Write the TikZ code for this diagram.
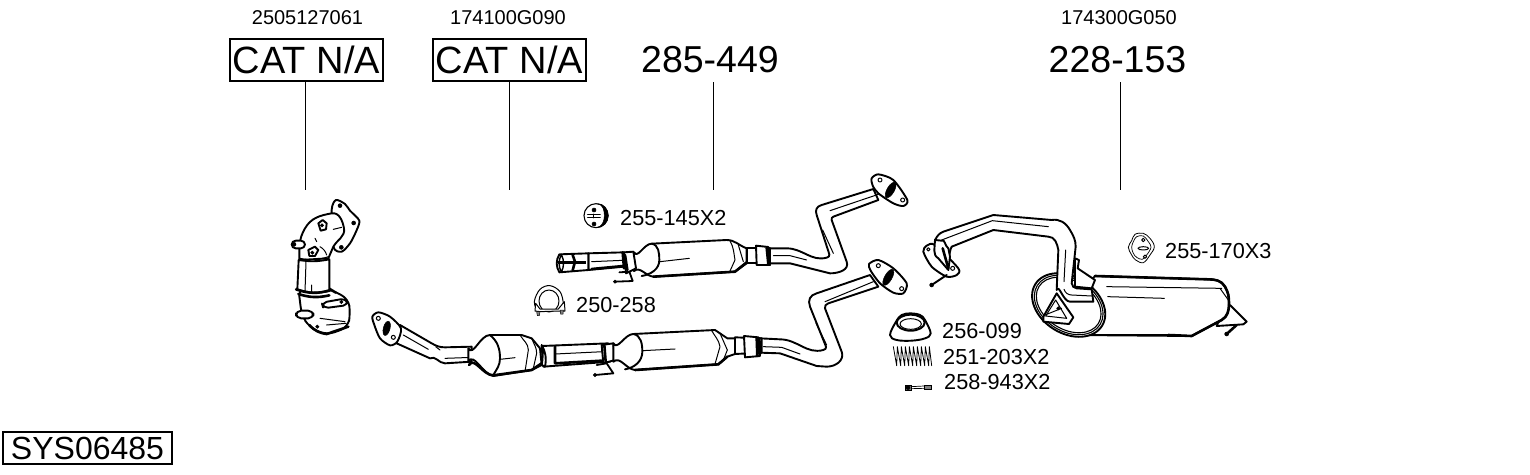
\documentclass[tikz,border=0pt]{standalone}
\usepackage{fontspec}
\setmainfont{Liberation Sans}
\newcommand{\fsz}[1]{\fontsize{#1}{#1}\selectfont}
\newcommand{\blobc}[2][part]{\path[#1] plot[smooth cycle,tension=.45] coordinates {#2};}
\tikzset{
 part/.style={draw=black,fill=white,line width=1.9pt,line join=round,line cap=round},
 thinp/.style={draw=black,line width=1pt,line cap=round,line join=round},
 thk/.style={draw=black,line width=2.6pt,line cap=round,line join=round},
 solid/.style={draw=black,fill=black,line width=.5pt},
 small/.style={inner sep=0pt,font=\fsz{20}},
 ref/.style={inner sep=0pt,anchor=west,font=\fsz{21.7}},
 big/.style={inner sep=0pt,font=\fsz{37.5}},
 catbox/.style={draw=black,line width=1.1pt,inner sep=0pt,minimum height=42pt,font=\fsz{38}},
 leader/.style={draw=black,line width=1.1pt},
 zoomed/.style={scale=1/3}
}
\begin{document}
\begin{tikzpicture}[x=1pt,y=-1pt]
\useasboundingbox (0,0) rectangle (1530,474);
% ---- labels
\node[small] (n1) at (307.5,18) {2505127061};
\node[small] (n2) at (508,18) {174100G090};
\node[small] (n3) at (1119,18) {174300G050};
\node[catbox,minimum width=153pt] (c1) at (306.5,60) {CAT N/A};
\node[catbox,minimum width=153pt] (c2) at (509.5,60) {CAT N/A};
\node[big] (c3) at (710,60) {285-449};
\node[big] (c4) at (1117.5,60) {228-153};
\coordinate (e1) at (305.5,190);
\coordinate (e2) at (509.5,190);
\coordinate (e3) at (713.4,190);
\coordinate (e4) at (1120.5,190);
\draw[leader] (e1 |- c1.south) -- (e1);
\draw[leader] (e2 |- c2.south) -- (e2);
\draw[leader] (e3 |- 0,82) -- (e3);
\draw[leader] (e4 |- 0,82) -- (e4);
\node[draw=black,line width=1.1pt,inner sep=0pt,minimum width=169pt,minimum height=32pt,font=\fsz{32}] (sys) at (87.5,448) {SYS06485};
\node[ref] (r1) at (620,218) {255-145X2};
\node[ref] (r2) at (576,305) {250-258};
\node[ref] (r3) at (942,331) {256-099};
\node[ref] (r4) at (943,357) {251-203X2};
\node[ref] (r5) at (944,382) {258-943X2};
\node[ref] (r6) at (1165,251) {255-170X3};
% ---- manifold with catalyst
\begin{scope}[xshift=270pt,yshift=-190pt,zoomed]
\blobc{(185,60)(198,30)(225,42)(240,62)(268,92)(258,125)(240,160)(215,185)(190,170)}
\path[part] (88,190) to[out=90,in=-120] (105,115) to[out=60,in=190] (185,70) to[out=10,in=100] (222,115) to[out=-80,in=60] (190,170) -- (175,205) -- (88,210) -- cycle;
\path[part,rounded corners=8pt] (85,295) -- (178,295) -- (192,305) -- (235,325) -- (241,370) -- (234,412) -- (170,435) -- (118,412) -- (95,375) -- cycle;
\path[part] (86,210) -- (82,298) to[bend right=15] (178,303) -- (178,208) to[bend left=10] (86,210);
\path[thinp] (108,215) -- (105,305) (125,285) -- (125,310) (90,205) to[bend right=15] (175,200);
\path[thk] (78,298) to[bend right=18] (182,300);
\path[thk] (85,312) to[bend right=15] (178,316);
\path[part,rounded corners=5pt] (155,338) -- (228,325) -- (235,345) -- (160,355) -- cycle;
\path[thinp] (150,385) -- (225,395) (170,405)--(228,400);
\path[thk] (118,405) to[bend right=20] (170,432) -- (235,410);
\path[part,rounded corners=5pt] (78,362) rectangle (130,385);
\path[part,rounded corners=4pt] (65,152) rectangle (105,175);
\path[solid] (72,163) circle (6);
\path[part] (145,100) -- (158,90) -- (170,100) -- (168,118) -- (152,122) -- cycle;
\path[solid] (156,106) circle (5);
\path[part] (115,180) -- (135,170) -- (145,180) -- (135,198) -- (118,198) -- cycle;
\path[solid] (127,188) circle (5);
\path[solid] (210,47) circle (6) (251,99) circle (6) (214,172) circle (6) (214,336) circle (5) (142,410) circle (5);
\path[thinp] (190,118) -- (215,112) (135,145) -- (140,155) (150,170) to[bend left=20] (170,195);
\end{scope}
% ---- front pipe with catalyst
\begin{scope}[xshift=365pt,yshift=-250pt,zoomed]
\path[part] (105,225) -- (200,280) to[out=-30,in=180] (240,292) -- (320,290) -- (320,335) -- (240,340) to[out=180,in=30] (195,325) -- (95,280) -- cycle;
\path[thinp] (115,255) -- (190,298) (225,300) -- (212,290) (240,325) -- (325,322);
\blobc{(22,200)(40,187)(75,200)(108,235)(97,275)(75,286)(45,265)(28,225)}
\path[solid] (65,235) ellipse [x radius=10,y radius=22,rotate=-15];
\path[part,line width=1pt] (40,205) circle (6) (85,262) circle (6);
% cat
\path[part] (310,295) to[out=-60,in=180] (375,255) -- (470,255) -- (500,265) -- (525,295) -- (530,345) -- (500,360) -- (385,378) to[out=170,in=60] (310,335) -- cycle;
\path[thk] (312,345) to[out=60,in=180] (385,376) -- (500,360) -- (530,340);
\path[part,fill=none] (375,255) to[out=-40,in=90] (405,325) to[out=-90,in=60] (385,375);
\path[thinp] (405,328) -- (450,323) (465,255) to[out=-60,in=90] (490,300) -- (480,365) (500,265) to[out=-70,in=90] (515,310) -- (505,355);
% connecting tube
\path[part] (530,288) -- (730,280) -- (735,335) -- (535,350) -- cycle;
\path[thinp] (570,312) -- (715,305);
\path[thk] (570,340) -- (710,332) (570,288) -- (570,340);
\path[part] (530,285) to[bend left=20] (540,350) -- (530,345) to[bend right=10] (530,285);
\path[part] (710,285) -- (745,280) -- (750,330) -- (715,340) -- cycle;
\path[thk] (718,285) -- (722,335);
% hook
\path[thk,line width=1.8pt] (690,375) -- (745,370) -- (725,340) -- (695,345);
\path[solid] (690,375) circle (5);
\end{scope}
\begin{scope}[xshift=640pt,yshift=-250pt,zoomed]
% pipe to flange
\path[part] (360,265) -- (420,268) to[out=0,in=195] (550,300) to[out=10,in=-65] (558,290) -- (510,170) to[out=110,in=195,looseness=1.2] (530,130) -- (690,75) -- (715,110) -- (565,160) to[out=195,in=110] (555,175) -- (605,305) to[out=-70,in=0,looseness=1.1] (560,350) -- (530,348) -- (420,310) -- (360,308) -- cycle;
\path[thinp] (370,290) -- (425,292) -- (480,312) (528,220) -- (560,285) (555,155) -- (700,95);
% muffler
\path[part] (-80,280) to[out=-60,in=180] (-20,252) -- (225,240) -- (262,265) -- (285,265) -- (285,312) -- (262,320) -- (235,343) -- (-15,360) to[out=175,in=40] (-80,335) -- cycle;
\path[part,fill=none] (-20,252) to[out=-10,in=90] (7,305) to[out=-90,in=10] (-45,358);
\path[thinp] (7,302) -- (105,297) (215,242) to[out=-60,in=100] (240,290) -- (225,342) (240,250) -- (262,300) -- (250,330);
\path[thk] (-15,360) -- (235,343) -- (262,320);
\path[part] (285,262) -- (365,265) -- (365,308) -- (285,312) -- cycle;
\path[part] (312,258) -- (355,262) -- (360,318) -- (315,322) -- cycle;
\path[thk] (350,262) -- (352,318) (358,265) -- (360,312);
\blobc{(687,42)(715,30)(760,55)(800,100)(790,130)(760,128)(720,100)(692,62)}
\path[solid] (745,82) ellipse [x radius=11,y radius=27,rotate=-30];
\path[part,line width=1pt] (715,47) circle (6) (785,116) circle (6);
\end{scope}
% ---- middle pipe
\begin{scope}[xshift=550pt,yshift=-165pt,zoomed]
\path[part] (660,250) -- (710,250) to[out=0,in=195] (830,278) to[out=10,in=-65] (838,268) -- (800,150) to[out=110,in=195,looseness=1.2] (815,120) -- (970,72) -- (985,105) -- (850,155) to[out=195,in=110] (845,165) -- (890,290) to[out=-70,in=0,looseness=1.1] (840,325) -- (720,295) -- (660,295) -- cycle;
\path[thinp] (670,272) -- (720,272) -- (770,285) (818,195) -- (850,265) (840,137) -- (985,88);
\path[part] (115,265) -- (222,262) -- (222,305) -- (115,315) -- cycle;
\path[thinp] (125,290) -- (218,286);
\path[thk] (125,312) -- (220,303) (218,262) -- (222,310);
\path[part] (28,268) -- (115,265) -- (115,315) -- (28,322) to[bend left=30] cycle;
\path[part,line width=1.4pt] (34,268) to[bend left=25] (34,322) to[bend left=25] (34,268);
\path[solid] (25,288) rectangle (105,295);
\path[thk] (68,270) -- (75,290) -- (68,316);
\path[part] (252,262) to[out=-60,in=180] (305,236) -- (530,225) to[out=0,in=160] (590,250) -- (590,295) -- (555,320) -- (310,335) to[out=175,in=40] (252,318) -- cycle;
\path[part,fill=none] (305,236) to[out=-10,in=90] (328,285) to[out=-90,in=10] (275,333);
\path[thinp] (330,290) -- (418,280) (540,228) to[out=-60,in=100] (555,285) -- (540,318) (565,240) -- (580,290);
\path[thk] (310,335) -- (555,320) -- (590,292);
\path[part] (222,262) -- (250,260) -- (258,310) -- (228,325) -- cycle;
\path[thk] (225,270) -- (232,315);
\path[part] (590,248) -- (660,248) -- (660,295) -- (590,295) -- cycle;
\path[part] (618,242) -- (655,246) -- (660,300) -- (620,300) -- cycle;
\path[thk] (650,248) -- (655,298);
\path[thk,line width=1.8pt] (195,350) -- (248,348) -- (238,320) -- (208,322);
\path[solid] (195,350) circle (5);
\blobc{(965,40)(985,28)(1030,45)(1072,105)(1060,123)(1030,115)(985,85)(968,62)}
\path[solid] (1022,75) ellipse [x radius=11,y radius=26,rotate=-30];
\path[part,line width=1pt] (990,45) circle (6) (1058,105) circle (6);
\end{scope}
% ---- rear muffler
\begin{scope}[xshift=915pt,yshift=-200pt,zoomed]
\path[part] (920,340) -- (945,315) -- (995,365) -- (985,373) -- (905,378) -- cycle;
\path[thk] (935,402) -- (965,375);
\path[solid] (935,402) circle (6);
\path[part] (540,228) -- (880,238) to[out=0,in=120] (930,260) to[out=-60,in=90] (942,310) to[out=-90,in=30] (920,360) -- (830,408) -- (470,405) -- (450,330) -- cycle;
\path[thk] (540,228) -- (880,238) to[out=0,in=120] (930,260) to[out=-60,in=90] (942,310) to[out=-90,in=30] (920,360) -- (830,408) -- (760,405);
\path[thinp] (575,260) -- (920,265) (915,265) -- (940,300) (578,290) -- (748,295);
\path[thk] (470,405) -- (760,405);
\path[part] (461,315) ellipse [x radius=118,y radius=85,rotate=-32];
\path[part,fill=none,line width=1.1pt] (461,315) ellipse [x radius=111,y radius=79,rotate=-32];
\path[part,fill=none,line width=1.1pt] (461,315) ellipse [x radius=105,y radius=73,rotate=-32];
\path[part] (425,280) -- (475,352) -- (462,372) -- (385,365) -- (385,350) -- cycle;
\path[thinp] (422,300) -- (392,348) -- (455,355) -- cycle;
\path[thinp] (390,345) -- (440,325);
\path[solid] (430,325) circle (5);
% tube
\path[part] (480,175) -- (492,180) -- (488,205) -- (540,240) -- (530,265) -- (480,260) -- cycle;
\path[part] (60,120) to[out=60,in=200] (85,95) -- (235,45) -- (410,60) to[out=10,in=120] (465,90) to[out=-60,in=90] (482,140) -- (470,250) to[out=-80,in=180] (485,265) -- (530,268) -- (535,305) -- (465,305) to[out=180,in=70] (425,270) -- (430,150) to[out=100,in=0] (400,110) -- (235,90) -- (110,140) to[out=240,in=60] (100,170) -- (100,210) -- (65,190) -- cycle;
\path[thinp] (80,120) -- (232,62) -- (400,80) (452,150) -- (447,245) (447,268) to[out=-70,in=180] (470,285) -- (530,288);
\blobc{(25,155)(35,137)(60,135)(130,205)(125,225)(95,230)(50,200)}
\path[part] (60,120) to[out=-90,in=150] (70,175) -- (100,210) -- (105,170) -- (100,145) to[out=150,in=40] (80,122) -- cycle;
\path[thk] (83,145) -- (100,205);
\path[thk,line width=2pt] (50,255) -- (95,225);
\path[solid] (50,255) circle (6);
\path[part,line width=1pt] (40,148) circle (5) (113,205) circle (6);
\end{scope}
% ---- hanger 255-170
\begin{scope}[xshift=915pt,yshift=-200pt,zoomed]
\path[part,line width=.8pt] plot[smooth cycle,tension=.6] coordinates {(660,103)(685,100)(705,115)(718,140)(705,165)(685,188)(662,180)(650,165)(640,142)(650,122)};
\path[part,line width=.7pt] plot[smooth cycle,tension=.6] coordinates {(665,110)(685,108)(700,125)(708,142)(695,165)(682,178)(665,172)(655,160)(650,142)(655,125)};
\path[part,line width=1pt] (685,145) ellipse (16 and 5);
\path[part,line width=1pt] (685,120) circle (5) (690,170) circle (5);
\end{scope}
% ---- clamp 250-258
\begin{scope}[xshift=525pt,yshift=-195pt,zoomed]
\path[part,line width=1pt,fill=none] plot[smooth,tension=.6] coordinates {(38,350)(28,320)(45,283)(75,272)(105,290)(115,325)(112,345)};
\path[part,line width=1pt,fill=none] (72,318) ellipse (30 and 33);
\path[part,line width=1pt] (32,325) -- (45,342) -- (100,342) -- (118,320) -- (120,348) -- (100,348) -- (45,350) -- (30,348) -- cycle;
\path[solid,fill=gray] (35,350) -- (45,350) -- (43,362) -- (37,362) -- cycle (105,345) -- (115,345) -- (114,357) -- (107,357) -- cycle;
\end{scope}
% ---- hanger 255-145
\begin{scope}[xshift=525pt,yshift=-195pt,zoomed]
\path[part,line width=1.1pt] (213,62) circle (36);
\path[solid] (218,26) to[out=0,in=90] (250,62) to[out=-90,in=0] (215,98) to[out=10,in=-90] (238,62) to[out=90,in=-10] (218,26);
\path[solid] (207,45) circle (6) (207,87) circle (6);
\path[thk,line width=1.6pt] (188,58) -- (225,58) (188,68) -- (225,68) (205,58) -- (205,68);
\end{scope}
% ---- gasket, spring, bolt
\begin{scope}[xshift=880pt,yshift=-300pt,zoomed]
\path[part] plot[smooth cycle,tension=.6] coordinates {(30,105)(48,65)(65,45)(92,40)(120,45)(135,60)(152,100)(135,115)(95,122)(50,120)};
\path[part,line width=2pt] (92,68) ellipse (42 and 24);
\path[part,line width=1pt] (92,72) ellipse (32 and 16);
\path[thinp,line width=.8pt] (40,140) -- (50,197) -- (52,140) -- (62,197) -- (64,140) -- (74,197) -- (76,140) -- (86,197) -- (88,140) -- (98,197) -- (100,140) -- (110,197) -- (112,140) -- (122,197) -- (124,140) -- (134,197) -- (136,140) -- (146,197) -- (148,140) -- (155,197);
\path[solid,fill=gray] (75,257) rectangle (93,270);
\path[solid,fill=black] (84,263) circle (6);
\path[solid,fill=gray] (132,257) rectangle (155,267);
\path[thinp,line width=.7pt] (93,260) -- (132,258) (93,266) -- (132,265);
\end{scope}
\end{tikzpicture}
\end{document}
